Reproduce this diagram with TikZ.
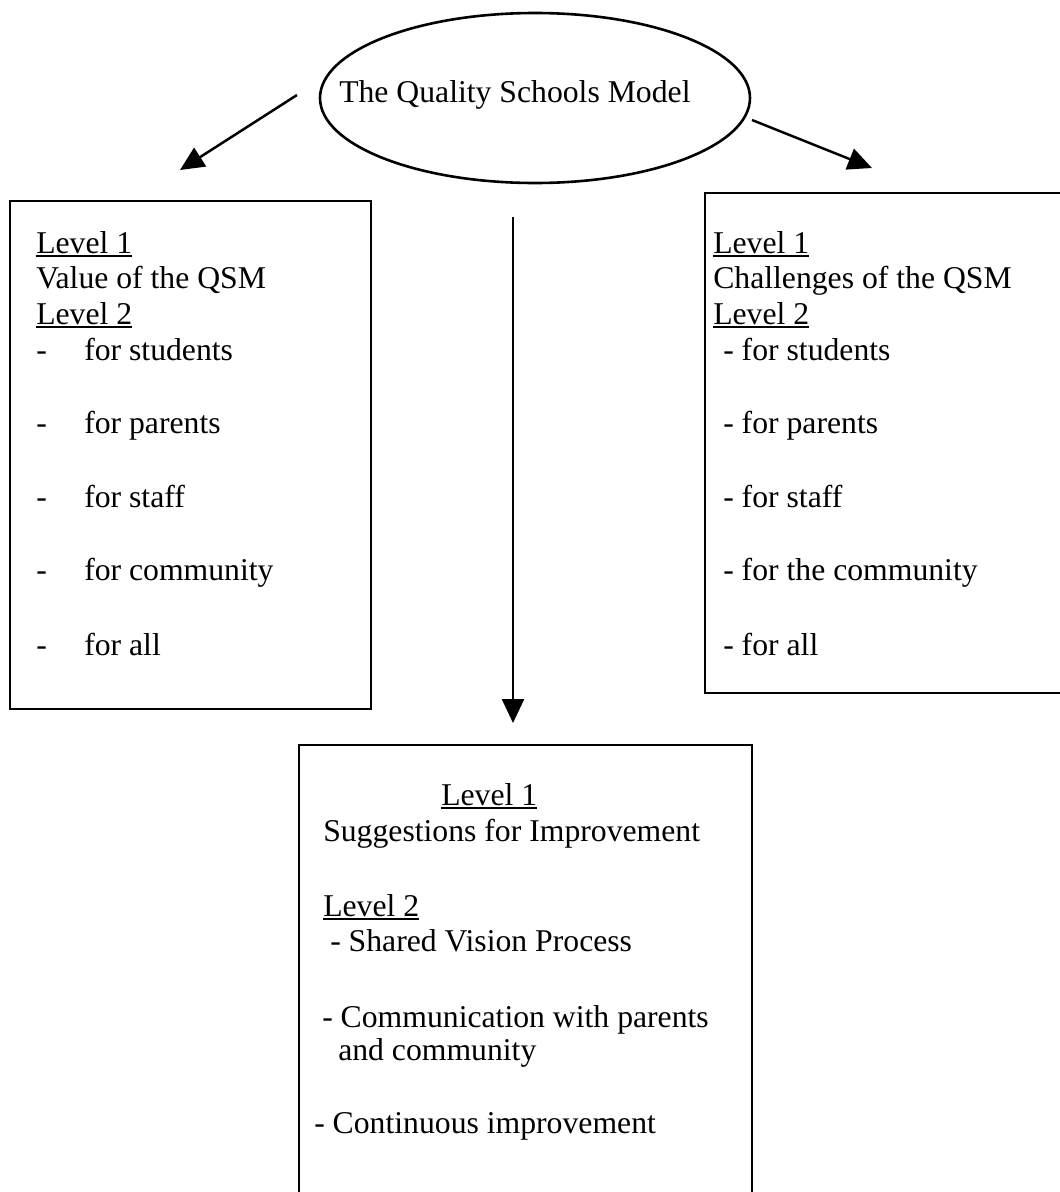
\documentclass[tikz,border=0pt]{standalone}
\usepackage{fontspec}
\setmainfont{Liberation Serif}
\usetikzlibrary{arrows.meta,shapes.geometric}
\newcommand\myul[1]{\setbox0\hbox{#1}\rlap{\rule[-4pt]{\wd0}{1.8pt}}\box0}
\begin{document}
\begin{tikzpicture}[x=1pt,y=-1pt,
  line width=2.5pt,
  txt/.style={anchor=base west,inner sep=0pt,font=\fontsize{31.7}{36}\selectfont},
  arr/.style={-{Triangle[length=24pt,width=22pt]}},
  boxline/.style={draw,line width=2.4pt}]
\useasboundingbox (0,0) rectangle (1060,1192);
\clip (0,0) rectangle (1060,1192);
\fill[white] (0,0) rectangle (1060,1192);
% ellipse
\node[draw,ellipse,minimum width=430pt,minimum height=170pt,inner sep=0pt,line width=2.6pt] (qsm) at (535,98) {};
\node[txt] (title) at (338,102) {The Quality Schools Model};
% boxes
\node[boxline,rectangle,anchor=north west,minimum width=361pt,minimum height=508pt,inner sep=0pt] (lbox) at (9,200) {};
\node[boxline,rectangle,anchor=north west,minimum width=380pt,minimum height=500pt,inner sep=0pt] (rbox) at (704,192) {};
\node[boxline,rectangle,anchor=north west,minimum width=453pt,minimum height=500pt,inner sep=0pt] (bbox) at (298,744) {};
% arrows
\coordinate (la0) at (297,95);
\coordinate (la1) at (180,170);
\coordinate (ra0) at (752,120);
\coordinate (ra1) at (872,168);
\coordinate (va0) at (513,217);
\coordinate (va1) at (513,723);
\draw[arr] (la0) -- (la1);
\draw[arr] (ra0) -- (ra1);
\draw[arr] (va0) -- (va1);
% left box text
\node[txt] (lA) at (35,253) {\myul{Level 1}};
\node[txt] (lB) at (35,288) {Value of the QSM};
\node[txt] (lC) at (35,324) {\myul{Level 2}};
\node[txt] (ld1) at (35,360) {-};
\node[txt] (lt1) at (83,360) {for students};
\node[txt] (ld2) at (35,433) {-};
\node[txt] (lt2) at (83,433) {for parents};
\node[txt] (ld3) at (35,507) {-};
\node[txt] (lt3) at (83,507) {for staff};
\node[txt] (ld4) at (35,580) {-};
\node[txt] (lt4) at (83,580) {for community};
\node[txt] (ld5) at (35,655) {-};
\node[txt] (lt5) at (83,655) {for all};
% right box text
\node[txt] (rA) at (712,253) {\myul{Level 1}};
\node[txt] (rB) at (712,288) {Challenges of the QSM};
\node[txt] (rC) at (712,324) {\myul{Level 2}};
\node[txt] (rt1) at (722,360) {- for students};
\node[txt] (rt2) at (722,433) {- for parents};
\node[txt] (rt3) at (722,507) {- for staff};
\node[txt] (rt4) at (722,580) {- for the community};
\node[txt] (rt5) at (722,655) {- for all};
% bottom box text
\node[txt] (bA) at (440,805) {\myul{Level 1}};
\node[txt] (bB) at (322,841) {Suggestions for Improvement};
\node[txt] (bC) at (322,916) {\myul{Level 2}};
\node[txt] (bt1) at (329,951) {- Shared Vision Process};
\node[txt] (bt2) at (321,1027) {- Communication with parents};
\node[txt] (bt3) at (337,1060) {and community};
\node[txt] (bt4) at (313,1133) {- Continuous improvement};
\end{tikzpicture}
\end{document}
